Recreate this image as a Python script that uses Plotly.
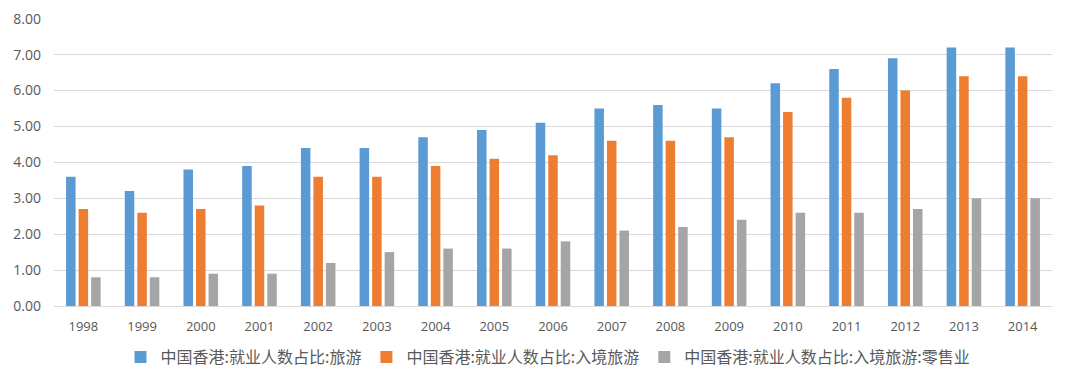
import plotly.graph_objects as go

years = [str(y) for y in range(1998, 2015)]
tourism = [3.6, 3.2, 3.8, 3.9, 4.4, 4.4, 4.7, 4.9, 5.1, 5.5, 5.6, 5.5, 6.2, 6.6, 6.9, 7.2, 7.2]
inbound = [2.7, 2.6, 2.7, 2.8, 3.6, 3.6, 3.9, 4.1, 4.2, 4.6, 4.6, 4.7, 5.4, 5.8, 6.0, 6.4, 6.4]
retail = [0.8, 0.8, 0.9, 0.9, 1.2, 1.5, 1.6, 1.6, 1.8, 2.1, 2.2, 2.4, 2.6, 2.6, 2.7, 3.0, 3.0]
ytick_vals = [0, 1, 2, 3, 4, 5, 6, 7, 8]

names = ["中国香港:就业人数占比:旅游", "中国香港:就业人数占比:入境旅游", "中国香港:就业人数占比:入境旅游:零售业"]
colors = ["#5B9BD5", "#ED7D31", "#A5A5A5"]

fig = go.Figure()
for name, vals, c in zip(names, [tourism, inbound, retail], colors):
    fig.add_trace(go.Bar(x=years, y=vals, name=name, marker=dict(color=c, line=dict(width=0))))

fig.update_layout(
    width=1091, height=382,
    margin=dict(l=46, r=47, t=10, b=84, autoexpand=False),
    paper_bgcolor="white", plot_bgcolor="white",
    barmode="group", bargap=0.36, bargroupgap=0.24,
    font=dict(family="Noto Sans CJK SC, Open Sans, sans-serif", color="#595959", size=13),
    yaxis=dict(range=[0, 8.02], tickmode="array", tickvals=ytick_vals,
               ticktext=[f"{v:.2f}" for v in ytick_vals],
               showgrid=True, gridcolor="#d9d9d9",
               gridwidth=1, zeroline=False, showline=False, ticklabelstandoff=12,
               automargin=False, ticklabeloverflow="allow",
               tickfont=dict(size=14, family="Open Sans, sans-serif")),
    xaxis=dict(showline=True, linecolor="#d9d9d9", linewidth=1, ticks="",
               automargin=False, ticklabelstandoff=8,
               tickfont=dict(size=13, family="Open Sans, sans-serif")),
    legend=dict(orientation="h", x=0.495, xanchor="center", yref="container",
                y=0.086, yanchor="middle",
                font=dict(size=16, color="#595959"), itemwidth=30, traceorder="normal"),
)

fig.write_html("out.html")
